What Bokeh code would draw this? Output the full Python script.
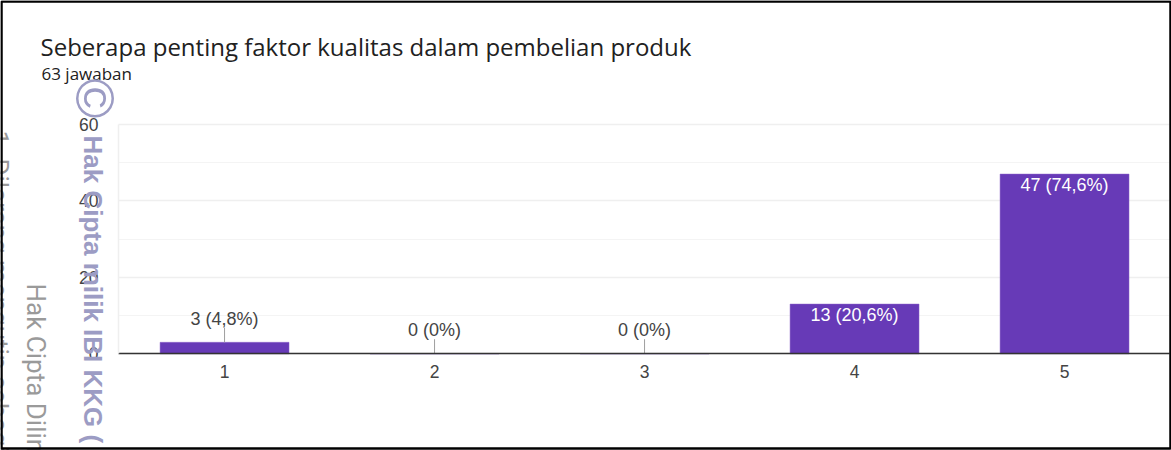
from math import pi
from bokeh.plotting import figure
from bokeh.models import Label, FixedTicker, BoxAnnotation, Range1d
from bokeh.core.properties import value
from bokeh.embed import file_html
from bokeh.resources import INLINE

categories = [1, 2, 3, 4, 5]
counts = [3, 0, 0, 13, 47]
labels = ["3 (4,8%)", "0 (0%)", "0 (0%)", "13 (20,6%)", "47 (74,6%)"]
y_ticks = [0, 20, 40, 60]
minor_ticks = [10, 30, 50]
title = "Seberapa penting faktor kualitas dalam pembelian produk"
subtitle = "63 jawaban"

W, H = 1171, 450
p = figure(width=W, height=H, output_backend="svg", toolbar_location=None,
           x_range=Range1d(-0.0669, 5.5093), y_range=Range1d(-25.3, 92.4),
           min_border=0, outline_line_color=None)

# axes, placed inside the canvas-wide frame
xax, yax = p.xaxis[0], p.yaxis[0]
xax.fixed_location = 0
yax.fixed_location = 0.495
xax.bounds = (0.495, 5.5)
yax.bounds = (0, 60)
xax.ticker = FixedTicker(ticks=categories)
yax.ticker = FixedTicker(ticks=y_ticks, minor_ticks=minor_ticks)
p.xgrid.visible = False
p.ygrid.bounds = (0, 60)
p.ygrid.cross_bounds = (0.495, 5.5)
p.ygrid.grid_line_color = "#efefef"
p.ygrid.grid_line_width = 1.5
p.ygrid.minor_grid_line_color = "#f4f4f4"
p.ygrid.minor_grid_line_width = 1
yax.axis_line_color = "#efefef"
yax.axis_line_width = 1.5
yax.major_tick_line_color = None
yax.minor_tick_line_color = None
yax.major_label_standoff = 14
xax.major_tick_line_color = None
xax.minor_tick_line_color = None
xax.axis_line_color = "#333333"
xax.axis_line_width = 1.5
xax.major_label_standoff = 5
for ax in (xax, yax):
    ax.major_label_text_font = "Liberation Sans"
    ax.major_label_text_font_size = "17.5px"
    ax.major_label_text_color = "#444444"

# bars
p.vbar(x=categories, top=counts, width=0.614, bottom=0, fill_color="#673ab7", line_color="#8a63c9", line_width=0.5)

# leader lines for labels that sit above their bars
outside = [i for i, c in enumerate(counts) if c < 10]
p.segment(x0=[categories[i] for i in outside], y0=[counts[i] for i in outside],
          x1=[categories[i] for i in outside], y1=[counts[i] + 3.8 for i in outside],
          line_color="#9e9e9e", line_width=1)
p.text(x=[categories[i] for i in outside], y=[counts[i] + 3.8 for i in outside],
       text=[labels[i] for i in outside], text_align="center", text_baseline="bottom",
       text_font=value("Liberation Sans"), text_font_size="18px", text_color="#444444", y_offset=1)
inside = [i for i, c in enumerate(counts) if c >= 10]
p.text(x=[categories[i] for i in inside], y=[counts[i] for i in inside],
       text=[labels[i] for i in inside], text_align="center", text_baseline="top",
       text_font=value("Liberation Sans"), text_font_size="18px", text_color="white", y_offset=1)

def lab(x, y, text, size, color, font="Roboto", angle=0, style="normal"):
    p.add_layout(Label(x=x, y=H - y, x_units="screen", y_units="screen", text=text, angle=angle,
                       text_font=font, text_font_size=size, text_color=color,
                       text_font_style=style, text_baseline="alphabetic"))

lab(40, 46, title, "24px", "#212121", font="Open Sans")
lab(41, 73, subtitle, "17px", "#212121", font="Open Sans")

# watermark texts
wm = "#9c9cc4"
lab(92, 135, "Hak Cipta milik IBI KKG (", "26px", wm, font="Liberation Sans", angle=-pi/2, style="bold")
lab(94, 78, "©", "54px", wm, font="Liberation Sans", angle=-pi/2)
lab(35, 283, "Hak Cipta Dilindungi", "26px", "#9a9a9a", font="Roboto", angle=-pi/2)
lab(-2, 130, "1. Dilarang mengutip sebagian", "26px", "#9a9a9a", font="Roboto", angle=-pi/2)

# page frame
p.add_layout(BoxAnnotation(left=1, right=W - 1, top=H - 1, bottom=2,
                           left_units="screen", right_units="screen", top_units="screen", bottom_units="screen",
                           fill_alpha=0, line_color="black", line_alpha=1, line_width=2.5))

open("out.html", "w").write(file_html(p, INLINE))
